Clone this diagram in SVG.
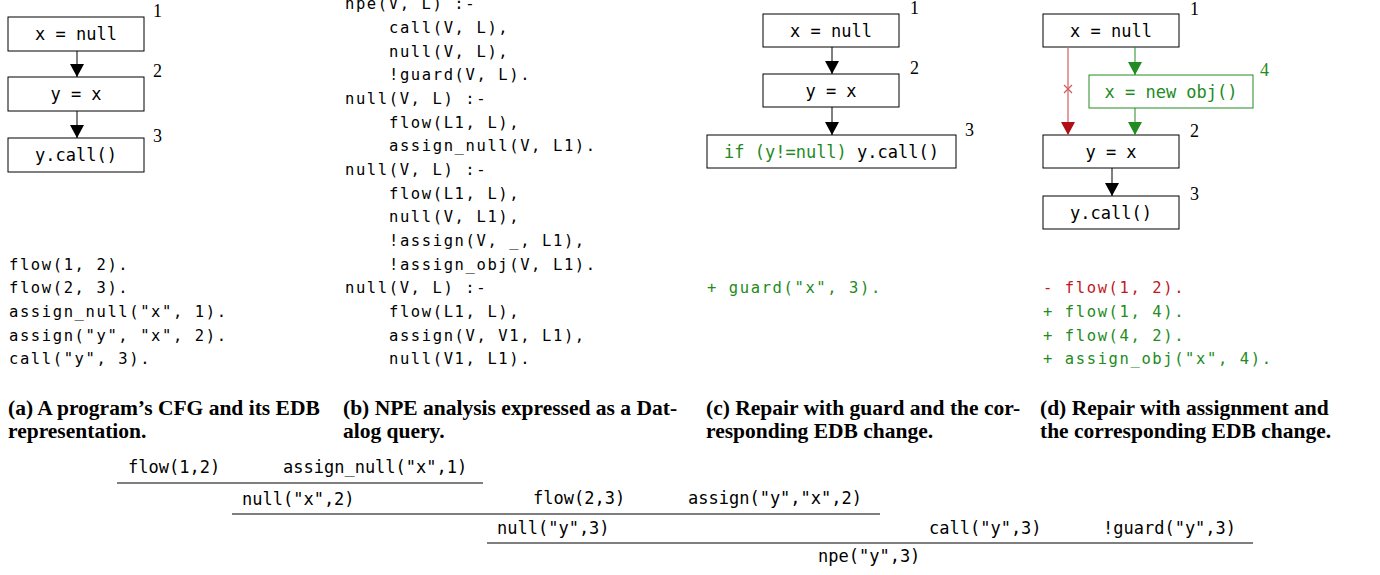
<svg xmlns="http://www.w3.org/2000/svg" width="1380" height="575" viewBox="0 0 1380 575">
<style>
.box{fill:#fff;stroke:#000;stroke-width:1}
.gbox{fill:#fff;stroke:#228b22;stroke-width:1}
.bt{font-family:"DejaVu Sans Mono",monospace;font-size:17px;text-anchor:middle;fill:#000}
.num{font-family:"Liberation Serif",serif;font-size:18px;fill:#000}
.code{font-family:"DejaVu Sans Mono",monospace;font-size:15.5px;letter-spacing:1.6px;fill:#000}
.g{fill:#228b22}
.r{fill:#c0171f}
.cap{font-family:"Liberation Serif",serif;font-weight:bold;font-size:21.5px;fill:#000}
.pt{font-family:"DejaVu Sans Mono",monospace;font-size:17px;fill:#000}
.rule{stroke:#000;stroke-width:1.2}
.ln{stroke:#000;stroke-width:1;fill:none}
</style>
<defs>
<marker id="ah" markerUnits="userSpaceOnUse" markerWidth="14" markerHeight="14" viewBox="0 0 14 14" refX="13" refY="7" orient="auto"><path d="M0,0 L13,7 L0,14 z" fill="#000"/></marker>
<marker id="ahg" markerUnits="userSpaceOnUse" markerWidth="14" markerHeight="14" viewBox="0 0 14 14" refX="13" refY="7" orient="auto"><path d="M0,0 L13,7 L0,14 z" fill="#228b22"/></marker>
<marker id="ahr" markerUnits="userSpaceOnUse" markerWidth="14" markerHeight="14" viewBox="0 0 14 14" refX="13" refY="7" orient="auto"><path d="M0,0 L13,7 L0,14 z" fill="#b01015"/></marker>
</defs>
<rect width="1380" height="575" fill="#fff"/>

<!-- Panel (a) -->
<g id="a1"><rect class="box" x="8" y="17" width="136" height="34"/><text class="bt" x="76" y="40">x = null</text><text class="num" x="153" y="17">1</text></g>
<g id="a2"><rect class="box" x="8" y="77" width="136" height="34"/><text class="bt" x="76" y="100">y = x</text><text class="num" x="153" y="77">2</text></g>
<g id="a3"><rect class="box" x="8" y="138" width="136" height="34"/><text class="bt" x="76" y="161">y.call()</text><text class="num" x="153" y="142">3</text></g>

<!-- Panel (c) -->
<g id="c1"><rect class="box" x="763" y="14" width="136" height="33"/><text class="bt" x="831" y="37">x = null</text><text class="num" x="910" y="14">1</text></g>
<g id="c2"><rect class="box" x="763" y="74" width="136" height="33"/><text class="bt" x="831" y="97">y = x</text><text class="num" x="910" y="74">2</text></g>
<g id="c3"><rect class="box" x="707" y="135" width="249" height="33"/><text class="bt" x="831.5" y="158"><tspan class="g">if (y!=null)</tspan> y.call()</text><text class="num" x="965" y="136">3</text></g>

<!-- Panel (d) -->
<g id="d1"><rect class="box" x="1043" y="14" width="136" height="33"/><text class="bt" x="1111" y="37">x = null</text><text class="num" x="1190" y="15">1</text></g>
<g id="d4"><rect class="gbox" x="1089" y="75" width="164" height="33"/><text class="bt g" x="1171" y="98">x = new obj()</text><text class="num g" x="1260" y="76">4</text></g>
<g id="d2"><rect class="box" x="1043" y="135" width="136" height="33"/><text class="bt" x="1111" y="158">y = x</text><text class="num" x="1190" y="137">2</text></g>
<g id="d3"><rect class="box" x="1043" y="196" width="136" height="33"/><text class="bt" x="1111" y="219">y.call()</text><text class="num" x="1190" y="200">3</text></g>

<g id="connectors">
<line class="ln" x1="77" y1="51" x2="77" y2="77" marker-end="url(#ah)"/>
<line class="ln" x1="77" y1="111" x2="77" y2="138" marker-end="url(#ah)"/>
<line class="ln" x1="832" y1="47" x2="832" y2="74" marker-end="url(#ah)"/>
<line class="ln" x1="832" y1="107" x2="832" y2="135" marker-end="url(#ah)"/>
<line x1="1068" y1="47" x2="1068" y2="135" stroke="#d66a6e" stroke-width="1.3" marker-end="url(#ahr)"/>
<path d="M1064,85 L1072,93 M1072,85 L1064,93" stroke="#d2585c" stroke-width="1.2"/>
<line x1="1135" y1="47" x2="1135" y2="75" stroke="#228b22" stroke-width="1" marker-end="url(#ahg)"/>
<line x1="1135" y1="108" x2="1135" y2="135" stroke="#228b22" stroke-width="1" marker-end="url(#ahg)"/>
<line class="ln" x1="1112" y1="168" x2="1112" y2="196" marker-end="url(#ah)"/>
</g>

<!-- Panel (b) code -->
<g id="code">
<text class="code" x="345" y="9">npe(V, L) :-</text>
<text class="code" x="389" y="33">call(V, L),</text>
<text class="code" x="389" y="56.7">null(V, L),</text>
<text class="code" x="389" y="80.3">!guard(V, L).</text>
<text class="code" x="345" y="104">null(V, L) :-</text>
<text class="code" x="389" y="127.6">flow(L1, L),</text>
<text class="code" x="389" y="151.3">assign_null(V, L1).</text>
<text class="code" x="345" y="174.9">null(V, L) :-</text>
<text class="code" x="389" y="198.6">flow(L1, L),</text>
<text class="code" x="389" y="222.2">null(V, L1),</text>
<text class="code" x="389" y="245.9">!assign(V, _, L1),</text>
<text class="code" x="389" y="269.5">!assign_obj(V, L1).</text>
<text class="code" x="345" y="293.2">null(V, L) :-</text>
<text class="code" x="389" y="316.8">flow(L1, L),</text>
<text class="code" x="389" y="340.5">assign(V, V1, L1),</text>
<text class="code" x="389" y="364.1">null(V1, L1).</text>
</g>

<!-- EDB (a) -->
<g id="edb_a">
<text class="code" x="9" y="269.5">flow(1, 2).</text>
<text class="code" x="9" y="293.2">flow(2, 3).</text>
<text class="code" x="9" y="316.8">assign_null("x", 1).</text>
<text class="code" x="9" y="340.5">assign("y", "x", 2).</text>
<text class="code" x="9" y="364.1">call("y", 3).</text>
</g>
<g id="edb_c">
<text class="code g" x="707" y="293.2">+ guard("x", 3).</text>
</g>
<g id="edb_d">
<text class="code r" x="1043" y="293.2">- flow(1, 2).</text>
<text class="code g" x="1043" y="316.8">+ flow(1, 4).</text>
<text class="code g" x="1043" y="340.5">+ flow(4, 2).</text>
<text class="code g" x="1043" y="364.1">+ assign_obj("x", 4).</text>
</g>

<!-- Captions -->
<g id="captions">
<text class="cap" x="8" y="415">(a) A program’s CFG and its EDB</text>
<text class="cap" x="8" y="438">representation.</text>
<text class="cap" x="343" y="415">(b) NPE analysis expressed as a Dat-</text>
<text class="cap" x="343" y="438">alog query.</text>
<text class="cap" x="706" y="415">(c) Repair with guard and the cor-</text>
<text class="cap" x="706" y="438">responding EDB change.</text>
<text class="cap" x="1040" y="415">(d) Repair with assignment and</text>
<text class="cap" x="1040" y="438">the corresponding EDB change.</text>
</g>

<!-- Proof tree -->
<g id="proof">
<text class="pt" x="128" y="473">flow(1,2)</text>
<text class="pt" x="283" y="473">assign_null("x",1)</text>
<line class="rule" x1="117" y1="483" x2="483" y2="483"/>
<text class="pt" x="242" y="505">null("x",2)</text>
<text class="pt" x="533" y="504">flow(2,3)</text>
<text class="pt" x="688" y="504">assign("y","x",2)</text>
<line class="rule" x1="232" y1="514" x2="880" y2="514"/>
<text class="pt" x="497" y="534">null("y",3)</text>
<text class="pt" x="929" y="534">call("y",3)</text>
<text class="pt" x="1103" y="534">!guard("y",3)</text>
<line class="rule" x1="487" y1="543" x2="1253" y2="543"/>
<text class="pt" x="818" y="562">npe("y",3)</text>
</g>
</svg>
